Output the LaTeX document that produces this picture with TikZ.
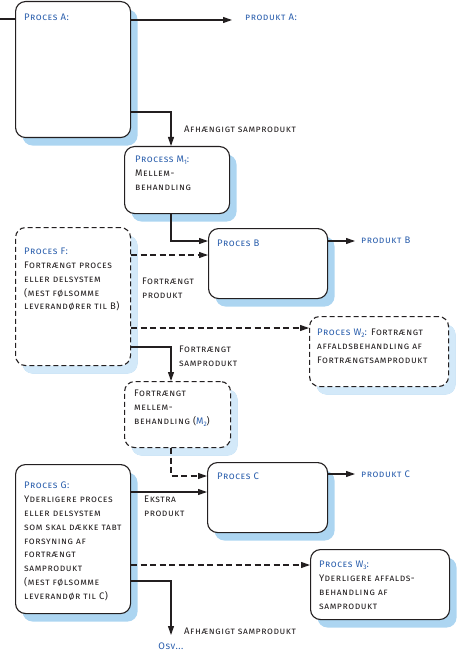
\documentclass[tikz,border=0pt]{standalone}
\usepackage{fontspec}
\setmainfont{Fira Sans}[LetterSpace=6]
\usetikzlibrary{arrows.meta,shadows}
\definecolor{txtblue}{HTML}{2B5FAD}
\definecolor{txtdark}{HTML}{231F20}
\definecolor{shadowblue}{HTML}{ACD5F1}
\definecolor{shadowlight}{HTML}{D3E9F9}
\newcommand{\blu}[1]{\textcolor{txtblue}{#1}}
\newcommand{\subnum}[1]{\raisebox{-1.8pt}{\fontsize{6.5}{6.5}\selectfont #1}}
\tikzset{
  procbox/.style={draw=txtdark, line width=1.1pt, rounded corners=10pt, fill=white, anchor=north west, inner sep=0pt,
    drop shadow={shadow xshift=7pt, shadow yshift=-8pt, fill=shadowblue, opacity=1}},
  dashbox/.style={procbox, dash pattern=on 5pt off 3pt,
    drop shadow={shadow xshift=7pt, shadow yshift=-8pt, fill=shadowlight, opacity=1}},
  boxtext/.style={anchor=north west, inner sep=0pt, align=left, text=txtdark,
    font=\fontsize{9.5}{13.8}\selectfont\scshape},
  lbl/.style={boxtext},
  arr/.style={draw=txtdark, line width=1.1pt, -{Triangle[length=9pt,width=6pt]}},
  plain/.style={draw=txtdark, line width=1.1pt},
  dsh/.style={dash pattern=on 6pt off 3.5pt}
}
\begin{document}
\begin{tikzpicture}[x=1pt,y=-1pt]
\useasboundingbox (0,0) rectangle (457,652);
% boxes
\node[procbox, minimum width=115pt, minimum height=136pt] (A) at (15,1) {};
\node[procbox, minimum width=105pt, minimum height=67pt] (M1) at (124,146) {};
\node[procbox, minimum width=119pt, minimum height=70pt] (B) at (208,228) {};
\node[dashbox, minimum width=115pt, minimum height=138pt] (F) at (15,227) {};
\node[dashbox, minimum width=139pt, minimum height=70pt] (W2) at (309,316) {};
\node[dashbox, minimum width=106pt, minimum height=66pt] (M2) at (124,381) {};
\node[procbox, minimum width=120pt, minimum height=70pt] (C) at (207,462) {};
\node[procbox, minimum width=115pt, minimum height=149pt] (G) at (15,464) {};
\node[procbox, minimum width=139pt, minimum height=70pt] (W3) at (310,549) {};
% box texts
\node[boxtext] (At) at (24,14) {\blu{Proces A:}};
\node[boxtext] (M1t) at (135,156) {\blu{Process M\subnum{1}:}\\ Mellem-\\ behandling};
\node[boxtext] (Bt) at (217,240) {\blu{Proces B}};
\node[boxtext] (Ft) at (24,248) {\blu{Proces F:}\\ Fortrængt proces\\ eller delsystem\\ (mest følsomme\\ leverandører til B)};
\node[boxtext] (W2t) at (317,329) {\blu{Proces W\subnum{2}:} Fortrængt\\ affaldsbehandling af\\ Fortrængtsamprodukt};
\node[boxtext] (M2t) at (134,390) {Fortrængt\\ mellem-\\ behandling (\blu{M\subnum{2}})};
\node[boxtext] (Ct) at (217,473) {\blu{Proces C}};
\node[boxtext] (Gt) at (24,482) {\blu{Proces G:}\\ Yderligere proces\\ eller delsystem\\ som skal dække tabt\\ forsyning af\\ fortrængt\\ samprodukt\\ (mest følsomme\\ leverandør til C)};
\node[boxtext] (W3t) at (319,561) {\blu{Proces W\subnum{3}:}\\ Yderligere affalds-\\ behandling af\\ samprodukt};
% outside labels
\node[boxtext] (pA) at (245,14) {\blu{produkt A:}};
\node[boxtext] (pB) at (361,237) {\blu{produkt B}};
\node[boxtext] (pC) at (361,471) {\blu{produkt C}};
\node[lbl] (l1) at (184,126) {Afhængigt samprodukt};
\node[lbl] (l2) at (142,278) {Fortrængt\\ produkt};
\node[lbl] (l3) at (179,346) {Fortrængt\\ samprodukt};
\node[lbl] (l4) at (144,496) {Ekstra\\ produkt};
\node[lbl] (l5) at (184,628) {Afhængigt samprodukt};
\node[boxtext, anchor=north] (osv) at (171,643) {\blu{Osv...}};
% coordinates
\coordinate (inA) at (0,19);
\coordinate (aOut) at ([yshift=-19pt]A.north east);
\coordinate (aDown) at ([yshift=-111pt]A.north east);
\coordinate (m1In) at ([xshift=47pt]M1.north west);
\coordinate (m1Out) at ([xshift=47pt]M1.south west);
\coordinate (bIn) at ([yshift=-13pt]B.north west);
\coordinate (bOut) at ([yshift=-13pt]B.north east);
\coordinate (fB) at ([yshift=-28pt]F.north east);
\coordinate (fW) at ([yshift=-101pt]F.north east);
\coordinate (fM) at ([yshift=-120pt]F.north east);
\coordinate (m2In) at ([xshift=47pt]M2.north west);
\coordinate (m2Out) at ([xshift=47pt]M2.south west);
\coordinate (cIn) at ([yshift=-14pt]C.north west);
\coordinate (cOut) at ([yshift=-12pt]C.north east);
\coordinate (gC) at ([yshift=-28pt]G.north east);
\coordinate (gW) at ([yshift=-101pt]G.north east);
\coordinate (gO) at ([yshift=-117pt]G.north east);
% connectors
\draw[plain] (inA) -- (inA -| A.west);
\draw[arr] (aOut) -- ([xshift=-13pt]aOut -| pA.west);
\draw[arr] (aDown) -| (m1In);
\draw[arr] (m1Out) |- (bIn);
\draw[arr] (bOut) -- ([xshift=-6pt]bOut -| pB.west);
\draw[arr, dsh] (fB) -- (fB -| B.west);
\draw[arr, dsh] (fW) -- (fW -| W2.west);
\draw[arr] (fM) -| (m2In);
\draw[arr, dsh] (m2Out) |- (cIn);
\draw[arr] (cOut) -- ([xshift=-6pt]cOut -| pC.west);
\draw[arr] (gC) -- (gC -| C.west);
\draw[arr, dsh] (gW) -- (gW -| W3.west);
\draw[arr] (gO) -| ([yshift=8pt]osv.north);
\end{tikzpicture}
\end{document}
